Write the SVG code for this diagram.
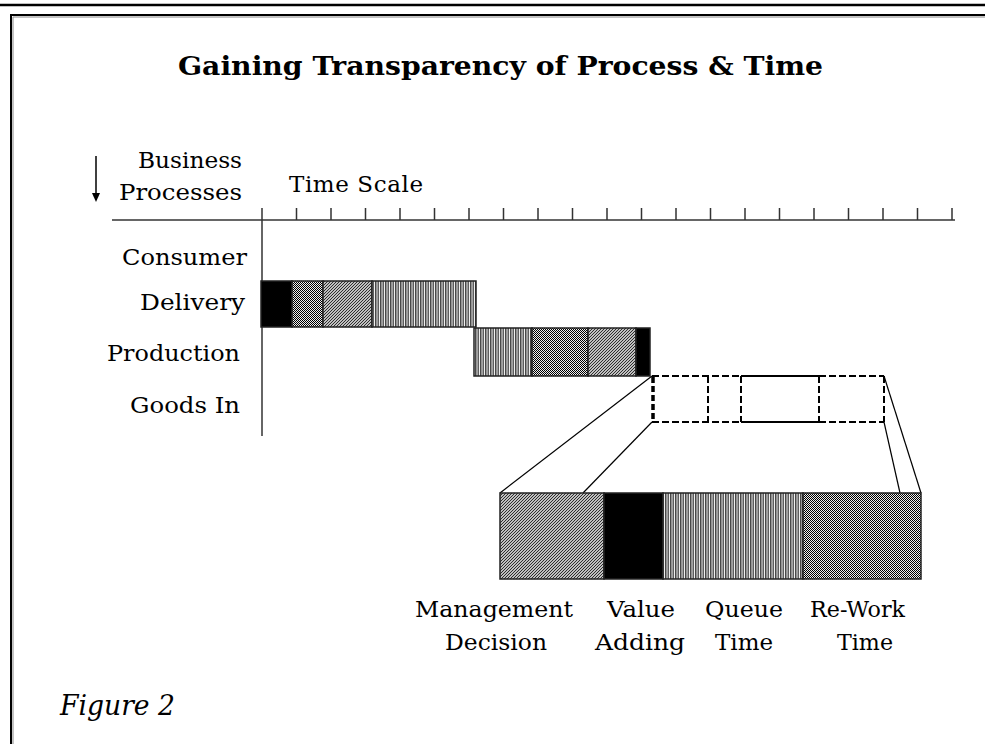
<svg xmlns="http://www.w3.org/2000/svg" width="985" height="744" viewBox="0 0 985 744">
<style>
.lbl{font-family:"DejaVu Serif","Liberation Serif",serif;font-size:23px;fill:#000}
.title{font-family:"DejaVu Serif","Liberation Serif",serif;font-size:26px;font-weight:bold;fill:#000}
.fig{font-family:"DejaVu Serif","Liberation Serif",serif;font-size:27px;font-style:italic;fill:#000}
.seg{stroke:#222;stroke-width:1.5}
.thin{stroke:#000;stroke-width:1.2;fill:none}
.dash{stroke:#000;stroke-width:2;fill:none;stroke-dasharray:7 3}
.axis{stroke:#333;stroke-width:1.5;fill:none}
</style>
<defs>
<pattern id="chk" width="2" height="2" patternUnits="userSpaceOnUse">
<rect width="2" height="2" fill="#eee"/>
<rect width="1" height="1" fill="#000"/>
<rect x="1" y="1" width="1" height="1" fill="#000"/>
</pattern>
<pattern id="diag" width="3" height="3" patternUnits="userSpaceOnUse">
<rect width="3" height="3" fill="#fff"/>
<path d="M-1,1 L1,-1 M0,3 L3,0 M2,4 L4,2" stroke="#222" stroke-width="1.1"/>
</pattern>
<pattern id="vert" width="2.5" height="4" patternUnits="userSpaceOnUse">
<rect width="2.5" height="4" fill="#fff"/>
<rect width="1.5" height="4" fill="#444"/>
</pattern>
</defs>
<rect width="985" height="744" fill="#fff"/>
<line x1="0" y1="5" x2="985" y2="5" stroke="#000" stroke-width="2.5"/>
<path d="M11,744 V15 H985" fill="none" stroke="#000" stroke-width="2"/>
<path d="M13,744 V17 H985" fill="none" stroke="#888" stroke-width="1"/>

<g id="title"><text class="title" x="178" y="75" textLength="645" lengthAdjust="spacingAndGlyphs">Gaining Transparency of Process &amp; Time</text></g>

<g id="axes">
<line x1="96" y1="156" x2="96" y2="194" stroke="#000" stroke-width="1.5"/>
<path d="M92,193 L100,193 L96,202 Z" fill="#000"/>
<text class="lbl" x="138" y="168" textLength="104" lengthAdjust="spacingAndGlyphs">Business</text>
<text class="lbl" x="119" y="200" textLength="123" lengthAdjust="spacingAndGlyphs">Processes</text>
<text class="lbl" x="289" y="192" textLength="134" lengthAdjust="spacing">Time  Scale</text>
<line class="axis" x1="112" y1="220" x2="955" y2="220"/>
<line class="axis" x1="262" y1="208" x2="262" y2="436"/>
<path class="axis" d="M296.5,208v12 M331,208v12 M365.5,208v12 M400,208v12 M434.5,208v12 M469,208v12 M503.5,208v12 M538,208v12 M572.5,208v12 M607,208v12 M641.5,208v12 M676,208v12 M710.5,208v12 M745,208v12 M779.5,208v12 M814,208v12 M848.5,208v12 M883,208v12 M917.5,208v12 M952,208v12"/>
</g>

<g id="row-labels">
<text class="lbl" x="122" y="265" textLength="125" lengthAdjust="spacingAndGlyphs">Consumer</text>
<text class="lbl" x="140" y="310" textLength="105" lengthAdjust="spacingAndGlyphs">Delivery</text>
<text class="lbl" x="107" y="361" textLength="133" lengthAdjust="spacingAndGlyphs">Production</text>
<text class="lbl" x="130" y="413" textLength="110" lengthAdjust="spacingAndGlyphs">Goods In</text>
</g>

<g id="delivery-bar">
<rect class="seg" x="261" y="281" width="31" height="46" fill="#000"/>
<rect class="seg" x="292" y="281" width="31" height="46" fill="url(#chk)"/>
<rect class="seg" x="323" y="281" width="49" height="46" fill="url(#diag)"/>
<rect class="seg" x="372" y="281" width="104" height="46" fill="url(#vert)"/>
</g>

<g id="production-bar">
<rect class="seg" x="474" y="328" width="58" height="48" fill="url(#vert)"/>
<rect class="seg" x="532" y="328" width="56" height="48" fill="url(#chk)"/>
<rect class="seg" x="588" y="328" width="48" height="48" fill="url(#diag)"/>
<rect class="seg" x="636" y="328" width="14" height="48" fill="#000"/>
</g>

<g id="goods-in-box">
<path class="dash" d="M652,376 H741 M819,376 H884 M652,422 H741 M819,422 H884 M884,376 V422 M708,376 V422 M741,376 V422 M819,376 V422"/>
<path d="M741,376 H819 M741,422 H819" stroke="#000" stroke-width="2" fill="none"/>
<path d="M653,377 V422" stroke="#000" stroke-width="3.5" stroke-dasharray="6 3" fill="none"/>
</g>

<g id="connectors">
<line class="thin" x1="652" y1="376" x2="500" y2="493"/>
<line class="thin" x1="652" y1="422" x2="583" y2="493"/>
<line class="thin" x1="884" y1="376" x2="921" y2="493"/>
<line class="thin" x1="884" y1="422" x2="900" y2="493"/>
</g>

<g id="detail-bar">
<rect class="seg" x="500" y="493" width="104" height="86" fill="url(#diag)"/>
<rect class="seg" x="604" y="493" width="59" height="86" fill="#000"/>
<rect class="seg" x="663" y="493" width="140" height="86" fill="url(#vert)"/>
<rect class="seg" x="803" y="493" width="118" height="86" fill="url(#chk)"/>
</g>

<g id="legend">
<text class="lbl" x="415" y="617" textLength="158" lengthAdjust="spacingAndGlyphs">Management</text>
<text class="lbl" x="445" y="650" textLength="102" lengthAdjust="spacingAndGlyphs">Decision</text>
<text class="lbl" x="607" y="617" textLength="68" lengthAdjust="spacingAndGlyphs">Value</text>
<text class="lbl" x="595" y="650" textLength="90" lengthAdjust="spacingAndGlyphs">Adding</text>
<text class="lbl" x="705" y="617" textLength="78" lengthAdjust="spacingAndGlyphs">Queue</text>
<text class="lbl" x="715" y="650" textLength="58" lengthAdjust="spacingAndGlyphs">Time</text>
<text class="lbl" x="810" y="617" textLength="95" lengthAdjust="spacingAndGlyphs">Re-Work</text>
<text class="lbl" x="837" y="650" textLength="56" lengthAdjust="spacingAndGlyphs">Time</text>
</g>

<g id="caption"><text class="fig" x="60" y="715" textLength="115" lengthAdjust="spacingAndGlyphs">Figure 2</text></g>
</svg>
